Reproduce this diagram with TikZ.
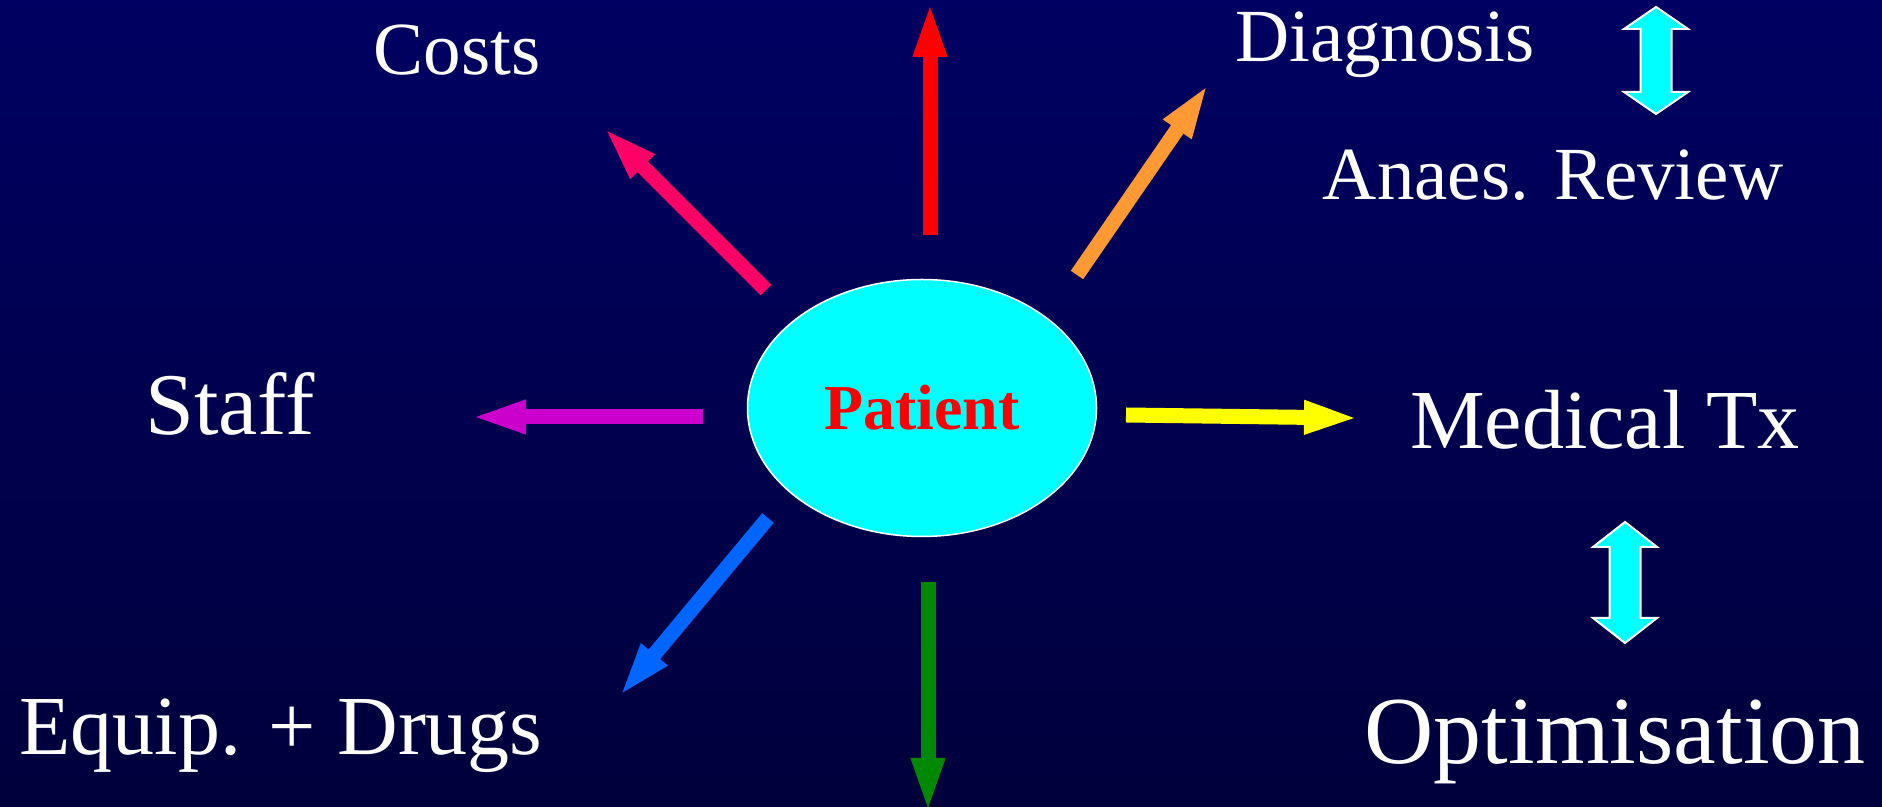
\documentclass[tikz,border=0pt]{standalone}
\usepackage{fontspec}
\setmainfont{Liberation Serif}[Ligatures=NoCommon]
\usetikzlibrary{arrows.meta,shapes.geometric}
\definecolor{bgtop}{RGB}{0,0,98}
\definecolor{bgbot}{RGB}{0,0,60}
\definecolor{aqua}{RGB}{0,255,255}
\definecolor{costpink}{RGB}{255,0,102}
\definecolor{diagorange}{RGB}{255,153,51}
\definecolor{staffmag}{RGB}{204,0,204}
\definecolor{equipblue}{RGB}{0,102,255}
\definecolor{downgreen}{RGB}{0,136,0}
\definecolor{medyellow}{RGB}{255,255,0}
\tikzset{
  fat/.style={line width=7.5pt,-{Triangle[length=28pt,width=15pt]},shorten >=-3.5pt},
  lbl/.style={text=white,inner sep=0pt,anchor=base},
  small/.style={font=\fontsize{37.5}{45}\selectfont},
  mid/.style={font=\fontsize{42}{50}\selectfont},
  big/.style={font=\fontsize{48}{58}\selectfont},
}
\begin{document}
\begin{tikzpicture}[x=0.5pt,y=0.5pt]
\shade[top color=bgtop,bottom color=bgbot] (0,0) rectangle (1882,807);
\useasboundingbox (0,0) rectangle (1882,807);
\node[ellipse,fill=aqua,draw=white,line width=0.75pt,minimum width=174.5pt,minimum height=128.5pt,
  inner sep=0pt,text=red,font=\bfseries\fontsize{32}{38}\selectfont] (patient) at (922,399) {Patient};
\node[lbl,small] (costs) at (457,732) {Costs};
\node[lbl,small] (diag) at (1385,745) {Diagnosis};
\node[lbl,small] (review) at (1553,607) {Anaes. Review};
\node[lbl,mid,font=\fontsize{44}{52}\selectfont] (staff) at (230,372) {Staff};
\node[lbl,mid] (medtx) at (1605,358) {Medical Tx};
\node[lbl,mid] (equip) at (281,52) {Equip. + Drugs};
\node[lbl,big] (optim) at (1615,43) {Optimisation};
\coordinate (r0) at (930,572); \coordinate (r1) at (930,799);
\coordinate (o0) at (1077,532); \coordinate (o1) at (1205,718);
\coordinate (p0) at (766,517); \coordinate (p1) at (608,675);
\coordinate (m0) at (703,390); \coordinate (m1) at (477,390);
\coordinate (b0) at (768,289); \coordinate (b1) at (623,115);
\coordinate (g0) at (928,225); \coordinate (g1) at (928,0);
\coordinate (y0) at (1126,392); \coordinate (y1) at (1353,389);
\draw[fat,red] (r0) -- (r1);
\draw[fat,diagorange] (o0) -- (o1);
\draw[fat,costpink] (p0) -- (p1);
\draw[fat,staffmag] (m0) -- (m1);
\draw[fat,equipblue] (b0) -- (b1);
\draw[fat,downgreen] (g0) -- (g1);
\draw[fat,medyellow] (y0) -- (y1);
\foreach \x/\t/\b/\h in {1656/800/693/22,1625/285/164/25}
\draw[fill=aqua,draw=white,line width=1pt] (\x,\t) -- (\x+32,\t-\h) -- (\x+15.5,\t-\h) -- (\x+15.5,\b+\h)
  -- (\x+32,\b+\h) -- (\x,\b) -- (\x-32,\b+\h) -- (\x-15.5,\b+\h) -- (\x-15.5,\t-\h) -- (\x-32,\t-\h) -- cycle;
\end{tikzpicture}
\end{document}
